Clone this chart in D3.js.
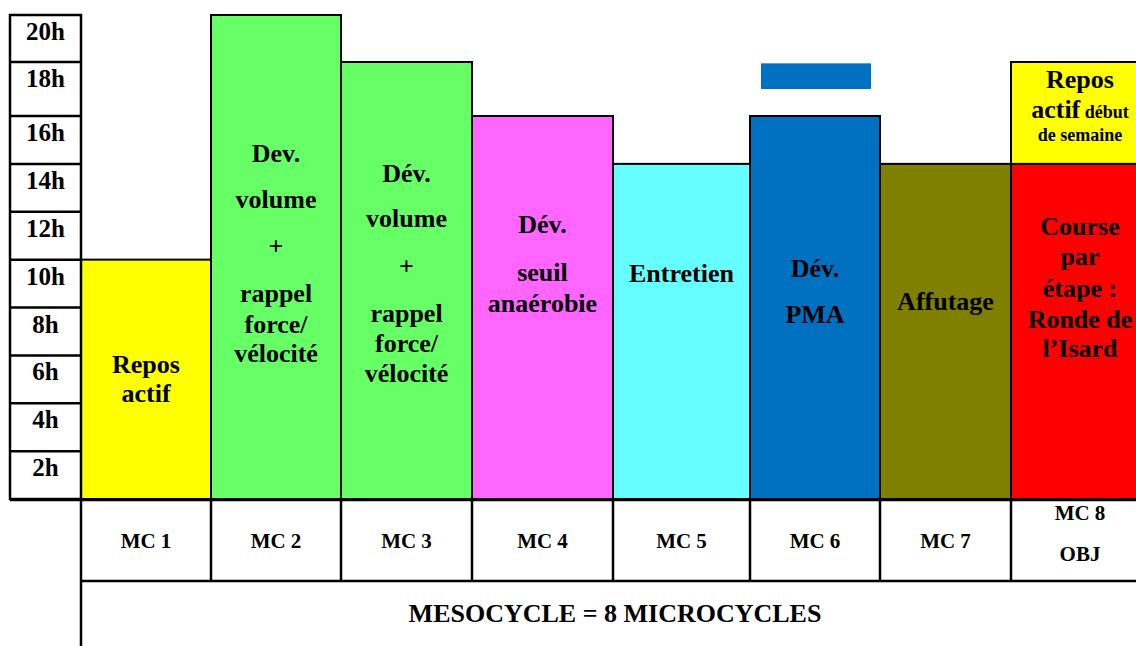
<!DOCTYPE html>
<html lang="fr">
<head>
<meta charset="utf-8">
<title>mesocycle</title>
<script src="https://cdn.jsdelivr.net/npm/d3@7/dist/d3.min.js"></script>
<style>
    body { margin: 0; background: #fff; }
    svg { display: block; }
</style>
</head>
<body>
<script>
var w = 1136;
var h = 646;

// ---- data ----
var cycles = ["MC 1", "MC 2", "MC 3", "MC 4", "MC 5", "MC 6", "MC 7", "MC 8"];
var cycleHours = [10, 20, 18, 16, 14, 16, 14, 14];      // height of each block (h)
var cycleColors = ["#ffff00", "#66ff66", "#66ff66", "#ff66ff", "#66ffff", "#0070c0", "#808000", "#ff0000"];
var cycleLabels = [
    ["Repos", "actif"],
    ["Dev.", "volume", "+", "rappel", "force/", "vélocité"],
    ["Dév.", "volume", "+", "rappel", "force/", "vélocité"],
    ["Dév.", "seuil", "anaérobie"],
    ["Entretien"],
    ["Dév.", "PMA"],
    ["Affutage"],
    ["Course", "par", "étape :", "Ronde de", "l’Isard"]
];
var hourTicks = [2, 4, 6, 8, 10, 12, 14, 16, 18, 20];
var hourLabels = ["2h", "4h", "6h", "8h", "10h", "12h", "14h", "16h", "18h", "20h"];

// MC 8 stacked segment : repos actif début de semaine, 14h -> 18h
var topCycle = "MC 8";
var topRange = [14, 18];
var topColor = "#ffff00";

// small blue marker above MC 6
var markerCycle = "MC 6";
var markerRange = [17, 17.95];

var bottomSub = ["", "", "", "", "", "", "", "OBJ"];
var footer = "MESOCYCLE = 8 MICROCYCLES";

// ---- layout ----
var colEdges = [81, 211, 341, 472, 613, 750, 880, 1011, 1149];
var base = 499;
var labelBaselines = [
    [373, 402],
    [162, 208, 255, 302, 333, 362],
    [182, 227, 275, 322, 352, 382],
    [233, 281, 312],
    [282],
    [277, 323],
    [310],
    [235, 265, 297, 328, 357]
];

var yScale = d3.scaleLinear().domain([0, 16, 18, 20]).range([base, 116, 62, 15]);
var xLeft = d3.scaleOrdinal().domain(cycles).range(colEdges.slice(0, 8));
var xRight = d3.scaleOrdinal().domain(cycles).range(colEdges.slice(1));
function xMid(c) { return (xLeft(c) + xRight(c)) / 2; }

var svg = d3.select("body").append("svg")
    .attr("width", w)
    .attr("height", h)
    .attr("font-family", "'Liberation Serif', serif")
    .attr("font-weight", "bold");

// bars
var bars = cycles.map(function(c, i) {
    return { cycle: c, hours: cycleHours[i], color: cycleColors[i], lines: cycleLabels[i], ys: labelBaselines[i] };
});

svg.selectAll("rect.bar")
    .data(bars)
    .enter()
    .append("rect")
    .attr("class", "bar")
    .attr("x", function(d) { return xLeft(d.cycle); })
    .attr("y", function(d) { return yScale(d.hours); })
    .attr("width", function(d) { return xRight(d.cycle) - xLeft(d.cycle); })
    .attr("height", function(d) { return base - yScale(d.hours); })
    .attr("fill", function(d) { return d.color; })
    .attr("stroke", "#000")
    .attr("stroke-width", 2);

// stacked top block of MC 8
svg.append("rect")
    .attr("x", xLeft(topCycle))
    .attr("y", yScale(topRange[1]))
    .attr("width", xRight(topCycle) - xLeft(topCycle))
    .attr("height", yScale(topRange[0]) - yScale(topRange[1]))
    .attr("fill", topColor)
    .attr("stroke", "#000")
    .attr("stroke-width", 2);

// blue marker
svg.append("rect")
    .attr("x", xLeft(markerCycle) + 11)
    .attr("y", yScale(markerRange[1]))
    .attr("width", 110)
    .attr("height", yScale(markerRange[0]) - yScale(markerRange[1]))
    .attr("fill", "#0070c0");

// bar labels
bars.forEach(function(d) {
    svg.selectAll(null)
        .data(d.lines)
        .enter()
        .append("text")
        .attr("x", xMid(d.cycle))
        .attr("y", function(t, j) { return d.ys[j]; })
        .attr("text-anchor", "middle")
        .attr("font-size", "26px")
        .text(function(t) { return t; });
});

// MC 8 top label
var tx = xMid(topCycle);
svg.append("text").attr("x", tx).attr("y", 88).attr("text-anchor", "middle")
    .attr("font-size", "26px").text("Repos");
var t2 = svg.append("text").attr("x", tx).attr("y", 118).attr("text-anchor", "middle")
    .attr("font-size", "26px");
t2.append("tspan").text("actif");
t2.append("tspan").attr("font-size", "18px").text(" début");
svg.append("text").attr("x", tx).attr("y", 141).attr("text-anchor", "middle")
    .attr("font-size", "18px").text("de semaine");

// hour column
var lines = svg.append("g").attr("stroke", "#000").attr("stroke-width", 2.5).attr("fill", "none");
lines.append("rect")
    .attr("x", 10).attr("y", yScale(20))
    .attr("width", 71).attr("height", base - yScale(20));
lines.selectAll("line.row")
    .data(hourTicks.slice(0, 9))
    .enter()
    .append("line")
    .attr("x1", 10).attr("x2", 81)
    .attr("y1", function(d) { return yScale(d); })
    .attr("y2", function(d) { return yScale(d); });

svg.selectAll("text.hour")
    .data(hourTicks)
    .enter()
    .append("text")
    .attr("class", "hour")
    .attr("x", 45.5)
    .attr("y", function(d) { return yScale(d) + 25; })
    .attr("text-anchor", "middle")
    .attr("font-size", "25px")
    .text(function(d, i) { return hourLabels[i]; });

// bottom table
lines.append("line").attr("x1", 10).attr("x2", w).attr("y1", 500).attr("y2", 500);
lines.append("line").attr("x1", 81).attr("x2", w).attr("y1", 581).attr("y2", 581);
lines.append("line").attr("x1", 81).attr("x2", 81).attr("y1", 500).attr("y2", h);
lines.selectAll("line.col")
    .data(colEdges.slice(1, 8))
    .enter()
    .append("line")
    .attr("x1", function(d) { return d; })
    .attr("x2", function(d) { return d; })
    .attr("y1", 500).attr("y2", 581);

svg.selectAll("text.mc")
    .data(cycles)
    .enter()
    .append("text")
    .attr("class", "mc")
    .attr("x", function(d) { return xMid(d); })
    .attr("y", function(d, i) { return bottomSub[i] ? 520 : 548; })
    .attr("text-anchor", "middle")
    .attr("font-size", "21px")
    .text(function(d) { return d; });

svg.selectAll("text.sub")
    .data(cycles.filter(function(d, i) { return bottomSub[i]; }))
    .enter()
    .append("text")
    .attr("class", "sub")
    .attr("x", function(d) { return xMid(d); })
    .attr("y", 561)
    .attr("text-anchor", "middle")
    .attr("font-size", "21px")
    .text(function(d) { return bottomSub[cycles.indexOf(d)]; });

svg.append("text")
    .attr("x", (81 + colEdges[8]) / 2)
    .attr("y", 622)
    .attr("text-anchor", "middle")
    .attr("font-size", "26px")
    .text(footer);
</script>
</body>
</html>
